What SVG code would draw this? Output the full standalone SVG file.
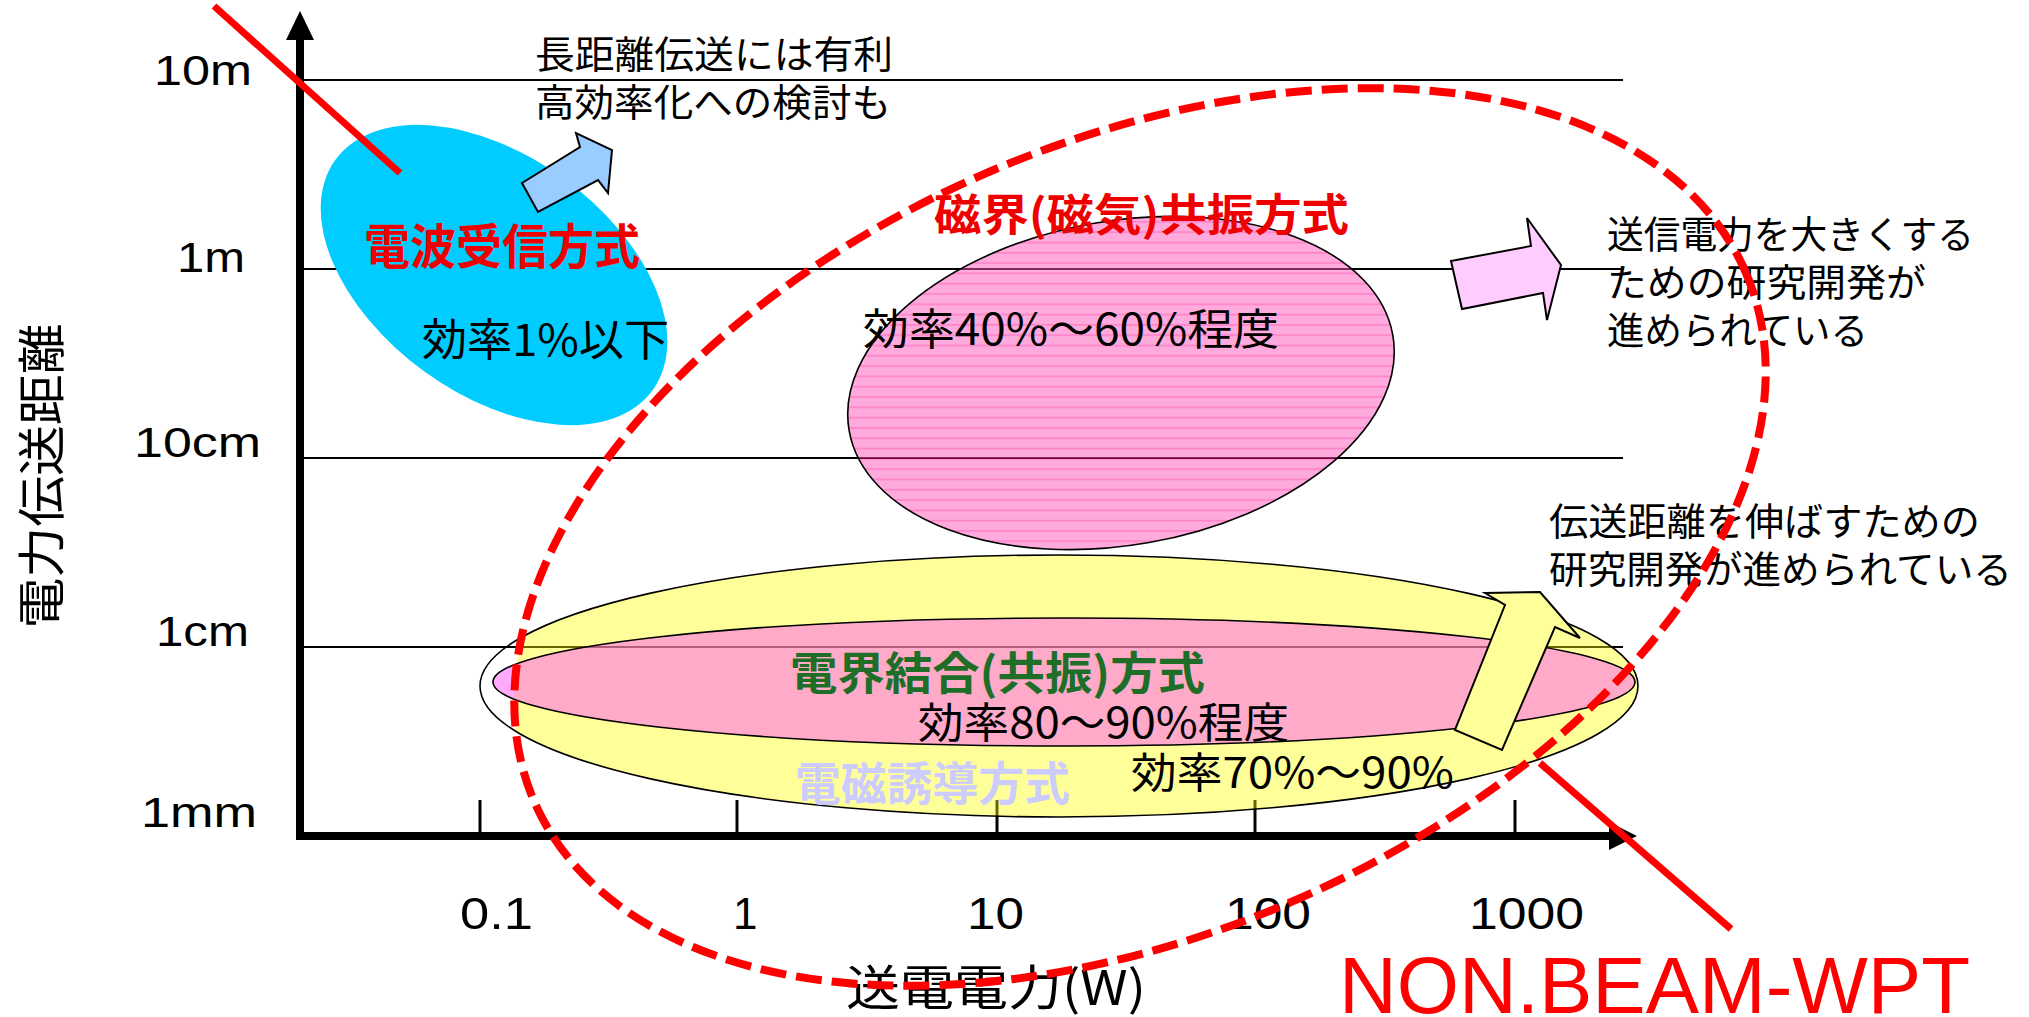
<svg xmlns="http://www.w3.org/2000/svg" width="2029" height="1017" viewBox="0 0 2029 1017">
<style>
.jp{font-family:"Noto Sans CJK JP","Noto Sans CJK SC",sans-serif;fill:#000}
.num{font-family:"Liberation Sans",Arial,sans-serif;fill:#000}
.b{font-weight:bold}
.grid{stroke:#000;stroke-width:2;fill:none}
.tick{stroke:#000;stroke-width:3}
.redline{stroke:#FF0000;stroke-width:7;fill:none}
.outline{stroke:#000;stroke-width:1.6}
.blockarrow{stroke:#000;stroke-width:2;stroke-linejoin:miter}
</style>
<defs>
<pattern id="hatch" patternUnits="userSpaceOnUse" width="40" height="10.3" patternTransform="rotate(10)">
<rect width="40" height="10.3" fill="#FF55B9"/>
<rect width="40" height="1.6" fill="#FF0590"/>
</pattern>
<clipPath id="clipYellow">
<ellipse cx="1140" cy="537" rx="661" ry="395" transform="rotate(-23.7 1140 537)"/>
<rect x="1400" y="500" width="400" height="400"/>
</clipPath>
</defs>
<rect width="2029" height="1017" fill="#fff"/>

<g id="grid">
<line class="grid" x1="300" y1="80" x2="1623" y2="80"/>
<line class="grid" x1="300" y1="269" x2="1623" y2="269"/>
<line class="grid" x1="300" y1="458" x2="1623" y2="458"/>
<line class="grid" x1="300" y1="647" x2="1623" y2="647"/>
</g>

<g id="axes">
<line x1="300" y1="36" x2="300" y2="840" stroke="#000" stroke-width="8"/>
<polygon points="300,11 286,40 314,40" fill="#000"/>
<line x1="296" y1="836" x2="1612" y2="836" stroke="#000" stroke-width="8"/>
<polygon points="1637,836 1609,822 1609,850" fill="#000"/>
<line class="tick" x1="480" y1="800" x2="480" y2="834"/>
<line class="tick" x1="737" y1="800" x2="737" y2="834"/>
<line class="tick" x1="997" y1="800" x2="997" y2="834"/>
<line class="tick" x1="1255" y1="800" x2="1255" y2="834"/>
<line class="tick" x1="1515" y1="800" x2="1515" y2="834"/>
</g>

<g id="axis-labels">
<text class="num" x="154" y="85" font-size="42" textLength="98" lengthAdjust="spacingAndGlyphs">10m</text>
<text class="num" x="177" y="272" font-size="42" textLength="68" lengthAdjust="spacingAndGlyphs">1m</text>
<text class="num" x="134" y="457" font-size="42" textLength="127" lengthAdjust="spacingAndGlyphs">10cm</text>
<text class="num" x="156" y="646" font-size="42" textLength="93" lengthAdjust="spacingAndGlyphs">1cm</text>
<text class="num" x="141" y="827" font-size="42" textLength="116" lengthAdjust="spacingAndGlyphs">1mm</text>
<text class="num" x="460" y="929" font-size="44" textLength="73" lengthAdjust="spacingAndGlyphs">0.1</text>
<text class="num" x="733" y="929" font-size="44">1</text>
<text class="num" x="967" y="929" font-size="44" textLength="57" lengthAdjust="spacingAndGlyphs">10</text>
<text class="num" x="1225" y="929" font-size="44" textLength="86" lengthAdjust="spacingAndGlyphs">100</text>
<text class="num" x="1469" y="929" font-size="44" textLength="115" lengthAdjust="spacingAndGlyphs">1000</text>
<text class="jp" font-size="48" text-anchor="middle" transform="translate(59,476) rotate(-90)" textLength="305" lengthAdjust="spacingAndGlyphs">電力伝送距離</text>
<text class="jp" x="846" y="1005" font-size="48" textLength="300" lengthAdjust="spacingAndGlyphs">送電電力(W)</text>
</g>

<g id="radio-reception">
<ellipse cx="494" cy="275" rx="196" ry="119" transform="rotate(36 494 275)" fill="#00CCFF"/>
<text class="jp b" x="364" y="264" font-size="48" style="fill:#EE0000" textLength="276" lengthAdjust="spacingAndGlyphs">電波受信方式</text>
<text class="jp" x="422" y="356" font-size="44" textLength="247" lengthAdjust="spacingAndGlyphs">効率1%以下</text>
</g>

<g id="magnetic-resonance">
<ellipse cx="1121" cy="383" rx="276" ry="162" transform="rotate(-10 1121 383)" fill="url(#hatch)" fill-opacity="0.5" class="outline"/>
<text class="jp b" x="934" y="231" font-size="44" style="fill:#EE0000" textLength="415" lengthAdjust="spacingAndGlyphs">磁界(磁気)共振方式</text>
<text class="jp" x="863" y="345" font-size="43" textLength="416" lengthAdjust="spacingAndGlyphs">効率40%～60%程度</text>
</g>

<g id="electromagnetic-induction">
<ellipse cx="1059" cy="686" rx="579" ry="131" fill="#FFFF00" fill-opacity="0.4" clip-path="url(#clipYellow)"/>
<ellipse cx="1059" cy="686" rx="579" ry="131" fill="none" class="outline"/>
<text class="jp b" x="795" y="800" font-size="46" style="fill:#CCCCFF" textLength="275" lengthAdjust="spacingAndGlyphs">電磁誘導方式</text>
<text class="jp" x="1131" y="788" font-size="42" textLength="323" lengthAdjust="spacingAndGlyphs">効率70%～90%</text>
</g>

<g id="electric-coupling">
<ellipse cx="1064" cy="682" rx="571" ry="64" fill="#FF55F7" fill-opacity="0.5" class="outline"/>
<text class="jp b" x="790" y="690" font-size="45" style="fill:#1E6E28" textLength="415" lengthAdjust="spacingAndGlyphs">電界結合(共振)方式</text>
<text class="jp" x="918" y="738" font-size="42" textLength="371" lengthAdjust="spacingAndGlyphs">効率80～90%程度</text>
</g>

<g id="note-long-distance">
<polygon class="blockarrow" points="522,183 580,147 576,133 612,150 608,193 598,180 538,212" fill="#99CCFF" stroke="#333"/>
<text class="jp" x="535" y="68" font-size="38" textLength="358" lengthAdjust="spacingAndGlyphs">長距離伝送には有利</text>
<text class="jp" x="535" y="116" font-size="38" textLength="356" lengthAdjust="spacingAndGlyphs">高効率化への検討も</text>
</g>

<g id="note-power">
<polygon class="blockarrow" points="1451,261 1531,246 1527,218 1561,265 1547,320 1543,293 1462,309" fill="#FFCCFF"/>
<text class="jp" x="1607" y="248" font-size="38" textLength="367" lengthAdjust="spacingAndGlyphs">送信電力を大きくする</text>
<text class="jp" x="1607" y="296" font-size="38" textLength="319" lengthAdjust="spacingAndGlyphs">ための研究開発が</text>
<text class="jp" x="1607" y="344" font-size="38" textLength="261" lengthAdjust="spacingAndGlyphs">進められている</text>
</g>

<g id="note-distance">
<polygon class="blockarrow" points="1485,593 1540,592 1580,638 1555,627 1502,750 1455,730 1505,605" fill="#FFFF99"/>
<text class="jp" x="1549" y="535" font-size="38" textLength="431" lengthAdjust="spacingAndGlyphs">伝送距離を伸ばすための</text>
<text class="jp" x="1549" y="583" font-size="38" textLength="463" lengthAdjust="spacingAndGlyphs">研究開発が進められている</text>
</g>

<g id="connectors">
<line class="redline" x1="214" y1="6" x2="400" y2="173"/>
<line class="redline" x1="1540" y1="763" x2="1731" y2="929"/>
</g>

<g id="non-beam-wpt">
<ellipse cx="1140" cy="537" rx="661" ry="395" transform="rotate(-23.7 1140 537)" fill="none" stroke="#FF0000" stroke-width="8" stroke-dasharray="26 10"/>
<text x="1339" y="1013" font-family="Liberation Sans, Arial, sans-serif" font-size="80" fill="#FF0000" textLength="631" lengthAdjust="spacingAndGlyphs">NON.BEAM-WPT</text>
</g>
</svg>
